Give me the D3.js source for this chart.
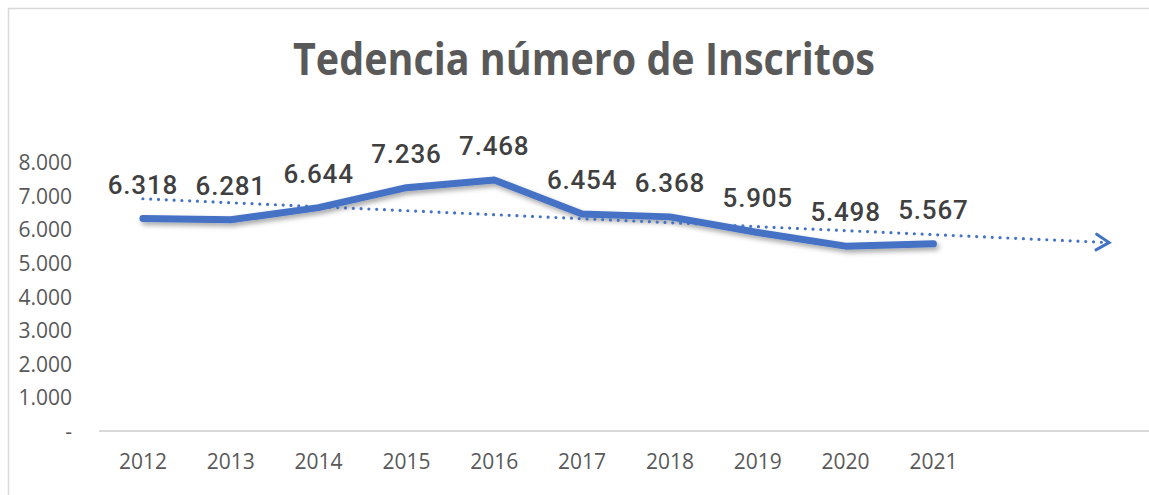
<!DOCTYPE html>
<html>
<head>
<meta charset="utf-8">
<script src="https://cdn.jsdelivr.net/npm/d3@7"></script>
<style>
  html, body { margin: 0; padding: 0; background: #fff; }
  svg { display: block; }
</style>
</head>
<body>
<svg id="chart" width="1149" height="495"></svg>
<script>
// data
const years = ['2012', '2013', '2014', '2015', '2016', '2017', '2018', '2019', '2020', '2021'];
const inscritos = [6318, 6281, 6644, 7236, 7468, 6454, 6368, 5905, 5498, 5567];
const yTicks = [0, 1000, 2000, 3000, 4000, 5000, 6000, 7000, 8000];
const forwardPeriods = 2;
const title = 'Tedencia número de Inscritos';

const width = 1149, height = 495;
const margin = { left: 99, right: -4, top: 162, bottom: 64 };

const svg = d3.select('#chart');

// number format with "." thousands, zero shown as "-"
const es = d3.formatLocale({ decimal: ',', thousands: '.', grouping: [3], currency: ['', ''] });
const fmt = es.format(',');
const tickFmt = d => d === 0 ? '-' : fmt(d);

// outer chart border
svg.append('rect')
    .attr('x', 8.5).attr('y', 8.5)
    .attr('width', width + 20).attr('height', height + 20)
    .attr('fill', 'none')
    .attr('stroke', '#d9d9d9')
    .attr('stroke-width', 1.5);

// category slots: the years plus the forecast periods of the trendline
const slots = d3.range(years.length + forwardPeriods);
const x = d3.scaleBand()
    .domain(slots)
    .range([margin.left, width - margin.right]);
const cx = i => x(i) + x.bandwidth() / 2;

const y = d3.scaleLinear()
    .domain([0, 8000])
    .range([height - margin.bottom, margin.top]);

// title
svg.append('text')
    .attr('x', 584)
    .attr('y', 75)
    .attr('text-anchor', 'middle')
    .attr('font-family', 'Open Sans, sans-serif')
    .attr('font-weight', 700)
    .attr('font-size', 44)
    .attr('fill', '#595959')
    .attr('textLength', 582)
    .attr('lengthAdjust', 'spacingAndGlyphs')
    .text(title);

// y labels
const yAxis = d3.axisLeft(y).tickValues(yTicks).tickFormat(tickFmt).tickSize(0).tickPadding(0);
const gy = svg.append('g')
    .attr('transform', 'translate(72,0)')
    .call(yAxis);
gy.select('.domain').remove();
gy.selectAll('text')
    .attr('font-family', 'Open Sans, sans-serif')
    .attr('font-size', 21)
    .attr('fill', '#595959')
    .attr('dy', '0.36em');

// x axis line and labels
svg.append('line')
    .attr('x1', margin.left).attr('x2', width + 10)
    .attr('y1', y(0)).attr('y2', y(0))
    .attr('stroke', '#d9d9d9')
    .attr('stroke-width', 2);

svg.append('g')
    .selectAll('text')
    .data(years)
    .enter().append('text')
    .attr('x', (d, i) => cx(i))
    .attr('y', y(0) + 38)
    .attr('text-anchor', 'middle')
    .attr('font-family', 'Open Sans, sans-serif')
    .attr('font-size', 21)
    .attr('fill', '#595959')
    .text(d => d);

// shadow for the series line
const defs = svg.append('defs');
const shadow = defs.append('filter')
    .attr('id', 'shadow')
    .attr('x', '-5%').attr('y', '-50%')
    .attr('width', '110%').attr('height', '200%');
shadow.append('feDropShadow')
    .attr('dx', 2).attr('dy', 3)
    .attr('stdDeviation', 2.5)
    .attr('flood-color', '#000')
    .attr('flood-opacity', 0.35);

const line = d3.line()
    .x((d, i) => cx(i))
    .y(d => y(d));

svg.append('path')
    .datum(inscritos)
    .attr('d', line)
    .attr('fill', 'none')
    .attr('stroke', '#4472c4')
    .attr('stroke-width', 7)
    .attr('stroke-linecap', 'round')
    .attr('stroke-linejoin', 'round')
    .attr('filter', 'url(#shadow)');

// linear trendline, extended forward two periods
const n = inscritos.length;
const xs = d3.range(1, n + 1);
const mx = d3.mean(xs), my = d3.mean(inscritos);
const slope = d3.sum(xs, (v, i) => (v - mx) * (inscritos[i] - my)) / d3.sum(xs, v => (v - mx) ** 2);
const intercept = my - slope * mx;
const trend = v => intercept + slope * v;
const lastSlot = n + forwardPeriods;

const tx1 = cx(0), ty1 = y(trend(1));
const tx2 = cx(lastSlot - 1), ty2 = y(trend(lastSlot));

svg.append('line')
    .attr('x1', tx1).attr('y1', ty1)
    .attr('x2', tx2 - 6).attr('y2', ty2 - (ty2 - ty1) * 6 / (tx2 - tx1))
    .attr('stroke', '#4472c4')
    .attr('stroke-width', 3.2)
    .attr('stroke-linecap', 'round')
    .attr('stroke-dasharray', '0 7.8');

// open arrow head
const ang = Math.atan2(ty2 - ty1, tx2 - tx1);
const arm = 15, spread = 0.55;
svg.append('path')
    .attr('d', `M${tx2 - arm * Math.cos(ang - spread)},${ty2 - arm * Math.sin(ang - spread)}L${tx2},${ty2}L${tx2 - arm * Math.cos(ang + spread)},${ty2 - arm * Math.sin(ang + spread)}`)
    .attr('fill', 'none')
    .attr('stroke', '#4472c4')
    .attr('stroke-width', 3)
    .attr('stroke-linecap', 'round')
    .attr('stroke-linejoin', 'miter');

// data labels
svg.append('g')
    .selectAll('text')
    .data(inscritos)
    .enter().append('text')
    .attr('x', (d, i) => cx(i))
    .attr('y', d => y(d) - 25)
    .attr('text-anchor', 'middle')
    .attr('font-family', 'Roboto, sans-serif')
    .attr('font-weight', 500)
    .attr('font-size', 26)
    .attr('letter-spacing', 0.8)
    .attr('fill', '#404040')
    .text(d => fmt(d));
</script>
</body>
</html>
